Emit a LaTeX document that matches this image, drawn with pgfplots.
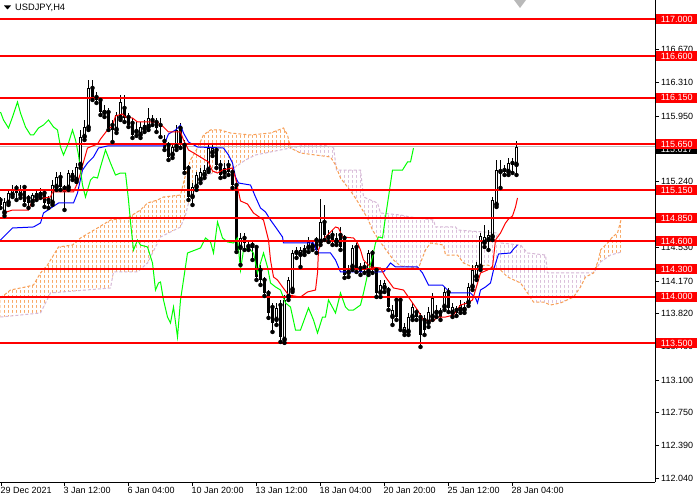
\documentclass[border=0pt]{standalone}
\usepackage{fontspec}
\setmainfont{Liberation Sans}
\usepackage{pgfplots}
\pgfplotsset{compat=1.18}
\usepackage{pgfplotstable}
\usepgfplotslibrary{fillbetween}
\definecolor{spanA}{RGB}{248,158,84}
\definecolor{spanB}{RGB}{214,184,214}
\definecolor{chikou}{RGB}{0,255,0}
\definecolor{bidgrey}{RGB}{192,192,192}
\newcommand{\tl}{\fontsize{9}{10}\selectfont}
\pgfplotsset{base/.style={
  at={(0pt,18pt)}, anchor=south west,
  width=655pt, height=482pt, scale only axis,
  xmin=-0.5, xmax=654.5, ymin=111.998, ymax=117.205, clip=false}}

% bullish candles: x open high low close
\pgfplotstableread{
x o h l c
4 114.905 115.067 114.872 115.023
8 115.013 115.153 114.991 115.121
12 115.099 115.207 115.077 115.153
20 115.099 115.207 115.067 115.153
32 115.023 115.121 114.991 115.099
36 115.077 115.153 115.045 115.121
40 115.099 115.175 115.067 115.131
52 115.013 115.261 114.991 115.207
56 115.185 115.347 115.153 115.293
68 115.175 115.369 115.153 115.337
72 115.293 115.369 115.261 115.337
76 115.261 115.445 115.239 115.401
80 115.423 115.801 115.391 115.725
84 115.725 115.909 115.693 115.833
88 115.823 116.341 115.801 116.255
104 115.985 116.071 115.941 116.017
116 115.801 115.995 115.769 115.963
120 115.931 116.179 115.909 116.103
136 115.779 115.887 115.737 115.801
140 115.747 115.887 115.715 115.833
144 115.812 115.909 115.779 115.855
148 115.833 116.039 115.801 115.931
172 115.531 115.661 115.499 115.617
176 115.617 115.855 115.585 115.801
192 115.077 115.229 114.991 115.185
196 115.185 115.347 115.153 115.315
200 115.261 115.391 115.229 115.347
204 115.315 115.423 115.283 115.369
208 115.369 115.639 115.347 115.607
212 115.553 115.661 115.520 115.607
224 115.337 115.445 115.293 115.391
240 114.527 114.689 114.343 114.635
248 114.537 114.613 114.505 114.559
276 113.749 113.933 113.695 113.879
284 113.533 114.019 113.501 113.965
288 113.997 114.213 113.965 114.181
292 114.073 114.505 114.051 114.473
296 114.473 114.537 114.419 114.494
300 114.451 114.537 114.321 114.505
304 114.483 114.559 114.451 114.527
308 114.527 114.645 114.483 114.591
312 114.537 114.613 114.505 114.581
320 114.591 115.056 114.559 114.807
328 114.635 114.721 114.591 114.667
336 114.591 114.689 114.559 114.635
348 114.257 114.343 114.213 114.289
352 114.321 114.559 114.289 114.527
368 114.267 114.505 114.235 114.473
380 114.041 114.181 113.997 114.127
384 114.095 114.181 114.051 114.149
392 113.781 113.911 113.695 113.857
404 113.619 113.717 113.587 113.673
408 113.619 113.825 113.587 113.781
412 113.781 113.933 113.749 113.889
428 113.717 113.889 113.673 113.835
432 113.781 114.041 113.749 113.987
436 113.825 113.911 113.781 113.857
444 113.889 114.105 113.857 114.051
452 113.825 113.933 113.781 113.889
460 113.857 113.965 113.825 113.911
464 113.857 113.944 113.825 113.889
468 113.933 114.149 113.900 114.105
472 114.105 114.343 114.073 114.289
476 114.213 114.375 114.181 114.343
480 114.321 114.689 114.289 114.656
484 114.581 114.775 114.537 114.645
488 114.613 114.721 114.505 114.667
492 114.645 115.077 114.613 115.045
496 114.991 115.477 114.969 115.369
500 115.347 115.477 115.175 115.369
508 115.347 115.499 115.315 115.445
516 115.423 115.683 115.315 115.617
}\bull

% bearish candles: x open high low close
\pgfplotstableread{
x o h l c
0 115.045 115.077 114.959 114.991
16 115.175 115.207 115.045 115.121
24 115.185 115.207 114.991 115.023
28 115.067 115.099 114.959 115.013
44 115.121 115.153 114.969 115.013
48 115.045 115.088 114.959 115.002
60 115.293 115.347 115.153 115.185
64 115.175 115.207 114.937 115.131
92 116.255 116.341 116.125 116.157
96 116.157 116.211 116.093 116.125
100 116.125 116.157 115.963 115.995
108 115.995 116.039 115.801 115.823
112 115.855 115.909 115.671 115.801
124 116.039 116.179 115.887 115.931
128 115.941 115.985 115.833 115.855
132 115.877 115.931 115.715 115.747
152 115.909 115.963 115.855 115.877
156 115.887 115.931 115.779 115.823
160 115.855 115.931 115.725 115.833
164 115.682 115.747 115.585 115.607
168 115.639 115.671 115.477 115.509
180 115.823 115.877 115.607 115.639
184 115.639 115.693 115.337 115.369
188 115.391 115.423 115.045 115.077
216 115.585 115.617 115.391 115.423
220 115.423 115.477 115.283 115.315
228 115.423 115.477 115.315 115.347
232 115.347 115.391 115.175 115.207
236 115.207 115.261 114.483 114.505
244 114.635 114.689 114.505 114.581
252 114.559 114.613 114.397 114.527
256 114.537 114.559 114.181 114.213
260 114.289 114.343 114.127 114.181
264 114.181 114.213 114.008 114.041
268 114.041 114.073 113.771 113.825
272 113.889 113.933 113.619 113.717
280 113.911 113.965 113.511 113.565
316 114.613 114.645 114.473 114.505
324 114.807 114.991 114.613 114.667
332 114.667 114.721 114.559 114.591
340 114.667 114.753 114.505 114.537
344 114.635 114.667 114.203 114.235
356 114.537 114.581 114.267 114.311
360 114.311 114.365 114.235 114.267
364 114.321 114.375 114.257 114.289
372 114.473 114.505 114.257 114.289
376 114.289 114.321 113.997 114.041
388 114.073 114.105 113.857 113.889
396 113.965 113.997 113.749 113.781
400 113.965 113.997 113.641 113.663
416 113.835 113.879 113.749 113.781
420 113.781 113.825 113.457 113.587
424 113.749 113.803 113.587 113.641
440 113.835 113.879 113.749 113.781
448 114.051 114.095 113.835 113.879
456 113.857 113.900 113.792 113.825
504 115.369 115.423 115.315 115.347
512 115.445 115.499 115.337 115.423
}\bear

\pgfplotstableread{
x y
3 114.904
12 114.936
28 114.936
32 115.044
50 115.077
52 115.131
73 115.131
77 115.228
80 115.336
83 115.455
87 115.606
97 115.649
100 115.703
107 115.801
112 115.844
115 115.952
122 115.973
125 115.941
132 115.930
137 115.887
157 115.887
163 115.833
168 115.779
180 115.779
183 115.693
188 115.585
195 115.541
208 115.455
212 115.358
217 115.336
222 115.368
232 115.390
235 115.282
240 115.034
247 115.001
253 114.904
263 114.828
268 114.612
270 114.396
273 114.213
277 114.180
282 114.105
288 114.018
300 113.996
307 114.051
315 114.072
317 114.256
318 114.504
322 114.612
327 114.666
335 114.753
338 114.742
342 114.645
353 114.634
357 114.580
360 114.504
363 114.396
370 114.321
380 114.310
385 114.213
393 114.094
403 114.072
410 113.964
417 113.856
423 113.748
433 113.737
437 113.780
445 113.780
453 113.802
460 113.910
467 113.932
472 113.964
475 114.072
480 114.256
487 114.288
492 114.321
495 114.612
500 114.688
505 114.796
508 114.839
512 114.872
515 114.969
517 115.066
}\tenkan

\pgfplotstableread{
x y
0 114.612
12 114.742
33 114.753
40 114.796
43 114.904
52 114.969
58 115.012
73 115.012
77 115.120
82 115.368
87 115.444
93 115.509
98 115.606
107 115.628
163 115.628
168 115.757
175 115.801
180 115.855
183 115.768
188 115.671
197 115.617
223 115.606
228 115.531
232 115.444
235 115.293
238 115.228
250 115.206
255 115.077
260 114.958
265 114.915
270 114.828
275 114.753
282 114.645
283 114.580
313 114.580
317 114.472
330 114.472
335 114.396
340 114.267
383 114.267
387 114.321
390 114.364
395 114.321
417 114.321
422 114.256
428 114.126
442 114.126
447 114.072
450 114.040
470 114.040
475 113.986
477 113.932
480 114.072
485 114.105
490 114.148
493 114.288
498 114.461
510 114.472
513 114.515
517 114.558
}\kijun

\pgfplotstableread{
x y
0 115.995
3 115.909
8 115.822
12 115.941
17 116.103
20 115.984
25 115.833
30 115.747
33 115.747
38 115.822
43 115.855
48 115.909
53 115.833
57 115.801
60 115.617
63 115.531
68 115.660
72 115.801
75 115.693
78 115.531
82 115.206
85 115.077
90 115.260
93 115.293
97 115.282
100 115.401
105 115.585
110 115.444
115 115.314
120 115.336
125 115.336
128 115.044
130 114.807
133 114.504
137 114.612
140 114.558
147 114.537
152 114.364
155 114.072
158 114.148
160 114.159
163 113.964
167 113.780
170 113.716
173 113.888
177 113.564
180 113.964
183 114.180
187 114.472
200 114.526
205 114.634
210 114.591
213 114.472
217 114.807
222 114.634
227 114.591
233 114.580
237 114.634
240 114.288
243 114.504
248 114.526
253 114.472
257 114.256
263 114.472
267 114.321
270 114.148
275 114.105
280 114.072
285 113.932
290 113.888
295 113.640
300 113.640
308 113.878
313 113.748
317 113.607
322 113.780
325 113.780
328 113.964
335 113.824
340 114.040
345 113.888
348 113.856
353 113.856
360 113.910
363 114.040
367 114.234
372 114.429
375 114.580
378 114.645
382 114.634
385 114.861
388 115.077
392 115.368
402 115.368
407 115.455
410 115.455
413 115.606
}\chik

\pgfplotstableread{
x y
0 113.986
10 114.072
25 114.105
33 114.126
40 114.256
47 114.342
58 114.537
72 114.558
80 114.634
97 114.742
110 114.828
127 114.850
140 114.936
147 115.012
157 115.044
163 115.077
180 115.098
185 115.314
190 115.477
197 115.606
203 115.747
210 115.801
220 115.801
230 115.768
250 115.747
270 115.768
283 115.822
287 115.747
290 115.606
300 115.552
330 115.509
335 115.423
340 115.282
347 115.185
353 115.098
358 115.012
362 114.936
367 114.850
372 114.720
377 114.634
387 114.483
393 114.396
400 114.331
418 114.310
425 114.504
430 114.580
443 114.558
445 114.450
457 114.450
463 114.364
472 114.321
487 114.342
500 114.288
507 114.213
520 114.148
527 114.040
533 113.942
543 113.942
550 113.910
560 113.932
573 113.996
580 114.105
585 114.213
593 114.256
598 114.396
600 114.504
607 114.580
612 114.645
617 114.688
621 114.850
}\spanAtab

\pgfplotstableread{
x y
0 113.780
40 113.824
50 114.040
110 114.094
113 114.267
137 114.267
147 114.364
160 114.645
180 114.753
185 114.882
190 115.098
200 115.206
207 115.314
215 115.347
235 115.401
245 115.477
255 115.531
265 115.552
280 115.585
290 115.606
305 115.639
320 115.639
333 115.617
336 115.368
360 115.368
363 115.077
377 115.012
380 114.904
400 114.882
410 114.861
433 114.828
435 114.753
455 114.753
457 114.720
497 114.688
500 114.580
520 114.558
527 114.472
545 114.450
547 114.256
593 114.256
600 114.375
610 114.450
621 114.483
}\spanBtab

\pgfplotstableread{
x y t
654.5 117.000 117.000
654.5 116.600 116.600
654.5 116.150 116.150
654.5 115.650 115.650
654.5 115.150 115.150
654.5 114.850 114.850
654.5 114.600 114.600
654.5 114.300 114.300
654.5 114.000 114.000
654.5 113.500 113.500
}\levels

\begin{document}
\begin{tikzpicture}
% ---- cloud (solid fill, textured afterwards) ----
\begin{axis}[base, hide axis]
\addplot[name path=A, draw=none] table[x=x,y=y] {\spanAtab};
\addplot[name path=B, draw=none] table[x=x,y=y] {\spanBtab};
\addplot[fill=spanA, draw=none] fill between[of=A and B, soft clip={domain=0:290}];
\addplot[fill=spanB, draw=none] fill between[of=A and B, soft clip={domain=290:593}];
\addplot[fill=spanA, draw=none] fill between[of=A and B, soft clip={domain=593:621}];
\end{axis}
% hatch texture: leave 1px x 3px dashes of the cloud colour
\fill[white] \foreach \i in {0,...,156} {(\i*4pt+1pt,160pt) rectangle ++(3pt,230pt)};
\fill[white] \foreach \j in {0,...,46} {(0pt,160pt+\j*5pt) rectangle ++(628pt,2pt)};
% ---- main chart ----
\begin{axis}[base,
  axis x line*=bottom, axis y line*=right,
  axis line style={black, line width=0.8pt},
  tick align=outside, major tick length=4pt,
  tick style={black, line width=0.8pt},
  /pgf/number format/assume math mode=true,
  scaled y ticks=false,
  ytick={112.04,112.39,112.75,113.10,113.46,113.82,114.17,114.53,115.24,115.95,116.31,116.67},
  yticklabel style={font=\tl, anchor=west, inner sep=0pt, xshift=2pt,
    /pgf/number format/.cd, fixed, fixed zerofill, precision=3, 1000 sep={}},
  xtick={1,64,128,192,256,320,384,448,512},
  xticklabels={29 Dec 2021,3 Jan 12:00,6 Jan 04:00,10 Jan 20:00,13 Jan 12:00,18 Jan 04:00,20 Jan 20:00,25 Jan 12:00,28 Jan 04:00},
  xticklabel style={font=\tl, anchor=north west, inner sep=0pt, xshift=-1pt, yshift=-1pt},
]
\addplot[spanB, line width=1pt, dash pattern=on 3pt off 2pt] table[x=x,y=y] {\spanBtab};
\addplot[spanA, line width=1pt, dash pattern=on 3pt off 2pt] table[x=x,y=y] {\spanAtab};
% bid line
\addplot[bidgrey, line width=1pt] coordinates {(-0.5,115.617) (654.5,115.617)};
% wicks
\addplot[only marks, mark=none, forget plot, error bars/.cd, y dir=plus, y explicit, error mark=none,
  error bar style={draw=black, solid, line width=1pt}] table[x=x, y=l, y error expr=\thisrow{h}-\thisrow{l}] {\bull};
\addplot[only marks, mark=none, forget plot, error bars/.cd, y dir=plus, y explicit, error mark=none,
  error bar style={draw=black, solid, line width=1pt}] table[x=x, y=l, y error expr=\thisrow{h}-\thisrow{l}] {\bear};
% bodies
\addplot[only marks, mark=none, forget plot, error bars/.cd, y dir=plus, y explicit, error mark=none,
  error bar style={draw=black, solid, line width=3pt}] table[x=x, y=o, y error expr=\thisrow{c}-\thisrow{o}] {\bear};
\addplot[only marks, mark=none, forget plot, error bars/.cd, y dir=plus, y explicit, error mark=none,
  error bar style={draw=black, solid, line width=3pt}] table[x=x, y=o, y error expr=\thisrow{c}-\thisrow{o}] {\bull};
\addplot[only marks, mark=none, forget plot, error bars/.cd, y dir=plus, y explicit, error mark=none,
  error bar style={draw=white, solid, line width=1pt}] table[x=x, y expr=\thisrow{o}+0.011, y error expr=\thisrow{c}-\thisrow{o}-0.022] {\bull};
% ichimoku lines
\addplot[blue, line width=1pt] table[x=x,y=y] {\kijun};
\addplot[red, line width=1pt] table[x=x,y=y] {\tenkan};
\addplot[chikou, line width=1pt] table[x=x,y=y] {\chik};
% horizontal levels
\addplot[red, line width=2pt] coordinates {(-0.5,117.0) (654.5,117.0)};
\addplot[red, line width=2pt] coordinates {(-0.5,116.6) (654.5,116.6)};
\addplot[red, line width=2pt] coordinates {(-0.5,116.15) (654.5,116.15)};
\addplot[red, line width=2pt] coordinates {(-0.5,115.65) (654.5,115.65)};
\addplot[red, line width=2pt] coordinates {(-0.5,115.15) (654.5,115.15)};
\addplot[red, line width=2pt] coordinates {(-0.5,114.85) (654.5,114.85)};
\addplot[red, line width=2pt] coordinates {(-0.5,114.6) (654.5,114.6)};
\addplot[red, line width=2pt] coordinates {(-0.5,114.3) (654.5,114.3)};
\addplot[red, line width=2pt] coordinates {(-0.5,114.0) (654.5,114.0)};
\addplot[red, line width=2pt] coordinates {(-0.5,113.5) (654.5,113.5)};
% current price label
\addplot[only marks, mark=none, nodes near coords, point meta=explicit symbolic,
  nodes near coords style={anchor=west, fill=black, text=white, inner sep=0pt, minimum width=41pt,
  minimum height=10pt, xshift=1pt, font=\tl}] table[x=x,y=y,meta=t] {
x y t
654.5 115.590 115.617
};
% level labels
\addplot[only marks, mark=none, nodes near coords, point meta=explicit symbolic,
  nodes near coords style={anchor=west, fill=red, text=white, inner sep=0pt, minimum width=41pt,
  minimum height=10pt, xshift=1pt, font=\tl}] table[x=x,y=y,meta=t] {\levels};
\end{axis}
% header
\fill[black] (4pt,494.5pt) -- (11pt,494.5pt) -- (7.5pt,490.5pt) -- cycle;
\node[anchor=west, inner sep=0pt, font=\fontsize{9.3}{10}\selectfont] at (15pt,492pt) {USDJPY,H4};
\fill[gray!55] (514pt,500pt) -- (526pt,500pt) -- (520pt,492pt) -- cycle;
\pgfresetboundingbox
\path[use as bounding box] (0pt,0pt) rectangle (700pt,500pt);
\end{tikzpicture}
\end{document}
